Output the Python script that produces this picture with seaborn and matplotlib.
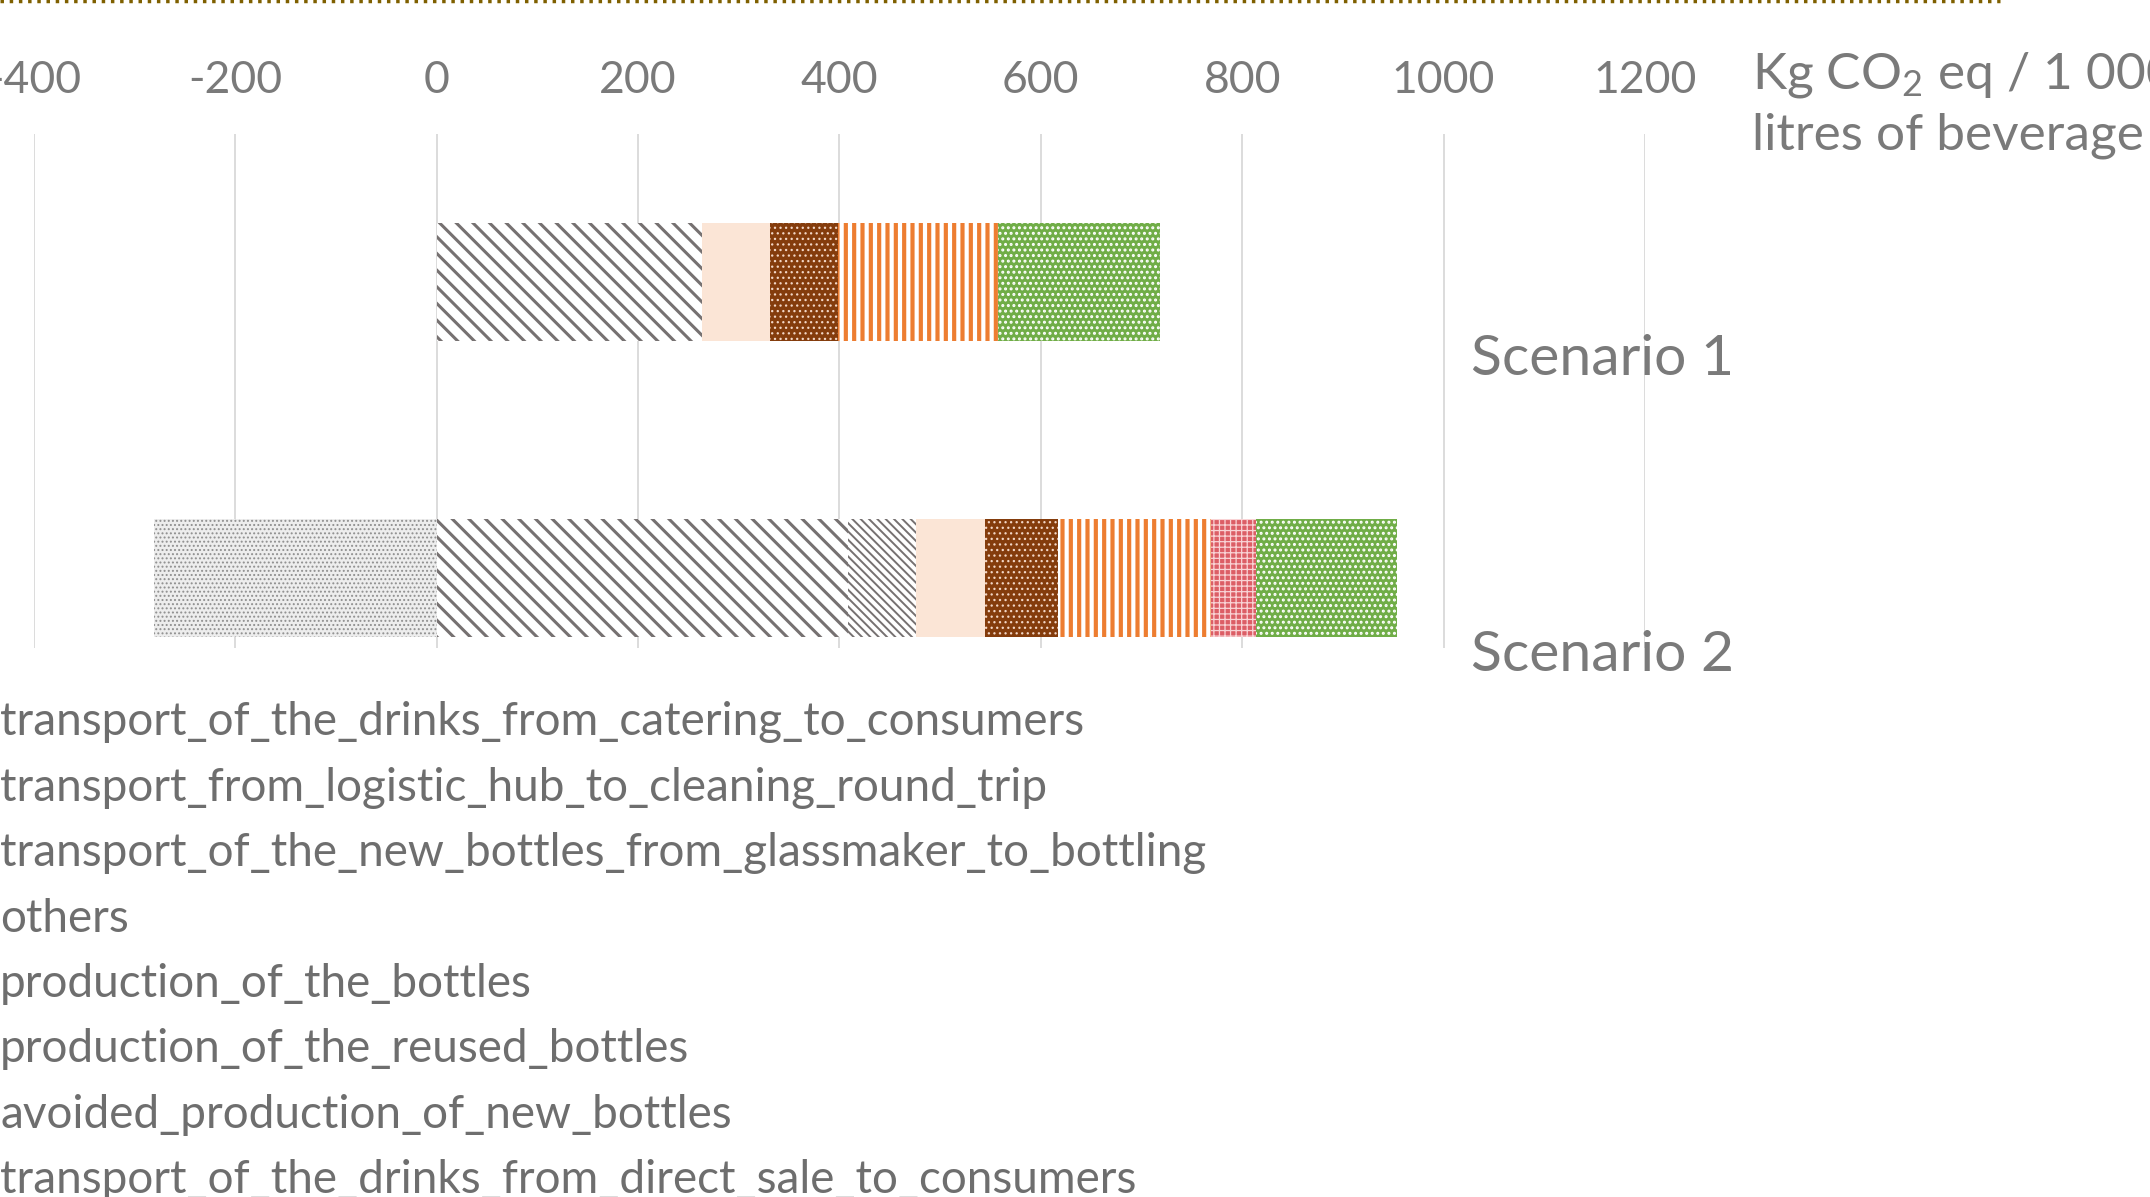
import matplotlib
matplotlib.use("Agg")
import matplotlib.pyplot as plt
import pandas as pd
import seaborn as sns
from matplotlib.lines import Line2D
from matplotlib.patches import Patch

scenarios = ["Scenario 1", "Scenario 2"]

# series, in the order the legend lists them
components = [
    "transport_of_the_drinks_from_catering_to_consumers",
    "transport_from_logistic_hub_to_cleaning_round_trip",
    "transport_of_the_new_bottles_from_glassmaker_to_bottling",
    "others",
    "production_of_the_bottles",
    "production_of_the_reused_bottles",
    "avoided_production_of_new_bottles",
    "transport_of_the_drinks_from_direct_sale_to_consumers",
]
scenario_1 = [161, 0, 68, 68, 263, 0, 0, 158]
scenario_2 = [140, 45, 72, 69, 408, 68, -281, 152]

# left-to-right order of the positive contributions
stack_order = [
    "production_of_the_bottles",
    "production_of_the_reused_bottles",
    "others",
    "transport_of_the_new_bottles_from_glassmaker_to_bottling",
    "transport_of_the_drinks_from_direct_sale_to_consumers",
    "transport_from_logistic_hub_to_cleaning_round_trip",
    "transport_of_the_drinks_from_catering_to_consumers",
]
negative_part = "avoided_production_of_new_bottles"

x_ticks = [-400, -200, 0, 200, 400, 600, 800, 1000, 1200]

# face colour, hatch colour, hatch, hatch line width
styles = {
    "production_of_the_bottles": ("white", "#767171", "\\\\", 2.2),
    "production_of_the_reused_bottles": ("white", "#767171", "\\\\\\\\", 1.4),
    "others": ("#FBE5D6", "#FBE5D6", "", 1.0),
    "transport_of_the_new_bottles_from_glassmaker_to_bottling": ("#843C0C", "#F2D6C6", "...", 0.9),
    "transport_of_the_drinks_from_direct_sale_to_consumers": ("white", "#ED7D31", "||", 3.0),
    "transport_from_logistic_hub_to_cleaning_round_trip": ("#DC5E66", "#F9D3D5", "+++", 0.9),
    "transport_of_the_drinks_from_catering_to_consumers": ("#70AD47", "white", "...", 1.4),
    "avoided_production_of_new_bottles": ("#EDEDED", "#8F8F8F", "....", 0.9),
}

GREY = "#7A7A7A"

sns.set_style("white")
plt.rcParams["font.family"] = ["Lato", "DejaVu Sans"]
plt.rcParams["axes.unicode_minus"] = False

df = pd.DataFrame({"Scenario 1": scenario_1, "Scenario 2": scenario_2}, index=components)
cum = df.loc[stack_order].cumsum()

fig = plt.figure(figsize=(21.5, 11.97), dpi=100)
ax = fig.add_axes([0.0158, 0.4586, 0.7493, 0.4295])


def draw_layer(values, name):
    face, hcol, hatch, hlw = styles[name]
    plt.rcParams["hatch.linewidth"] = hlw
    n_before = len(ax.patches)
    sns.barplot(x=values, y=scenarios, orient="h", color=face, saturation=1,
                edgecolor=hcol, linewidth=0, hatch=hatch, width=0.4,
                errorbar=None, ax=ax)
    for p in ax.patches[n_before:]:
        p.set_facecolor(face)
        if hasattr(p, "set_hatch_linewidth"):
            p.set_hatch_linewidth(hlw)


# stacked bars: cumulative totals drawn from the longest to the shortest
for name in reversed(stack_order):
    draw_layer(cum.loc[name].values, name)
draw_layer(df.loc[negative_part].values, negative_part)

ax.set_xlim(-400, 1200)
ax.set_ylim(1.236, -0.5)
ax.set_xticks(x_ticks)
ax.xaxis.set_ticks_position("top")
ax.tick_params(axis="x", length=0, pad=24, labelsize=32, labelcolor=GREY)
ax.tick_params(axis="y", left=False, labelleft=False)
ax.set_xlabel("")
ax.set_ylabel("")
ax.grid(axis="x", color="#D9D9D9", linewidth=1.3)
ax.set_axisbelow(True)
sns.despine(ax=ax, left=True, bottom=True)

# category names sit to the right of the bars
for i, sc in enumerate(scenarios):
    ax.text(1027, i + 0.26, sc, fontsize=41, color=GREY, va="center", ha="left",
            clip_on=False)

# unit label
fig.text(0.815, 0.937, r"Kg $\mathregular{CO_2}$ eq / 1 000", fontsize=37,
         color=GREY, va="center", ha="left")
fig.text(0.815, 0.887, "litres of beverage", fontsize=37, color=GREY,
         va="center", ha="left")

# legend shows only the series names
handles = [Patch(visible=False) for _ in components]
fig.legend(handles, components, loc="upper left", bbox_to_anchor=(0.0, 0.414),
           frameon=False, handlelength=0, handletextpad=0, borderpad=0,
           borderaxespad=0, labelspacing=0.51, fontsize=33, labelcolor="#6E6E6E")

# dotted frame edge at the very top
fig.add_artist(Line2D([0, 0.93], [0.999, 0.999], transform=fig.transFigure,
                      color="#7F6000", linestyle=":", linewidth=2.5))

fig.savefig("out.png", dpi=100)
